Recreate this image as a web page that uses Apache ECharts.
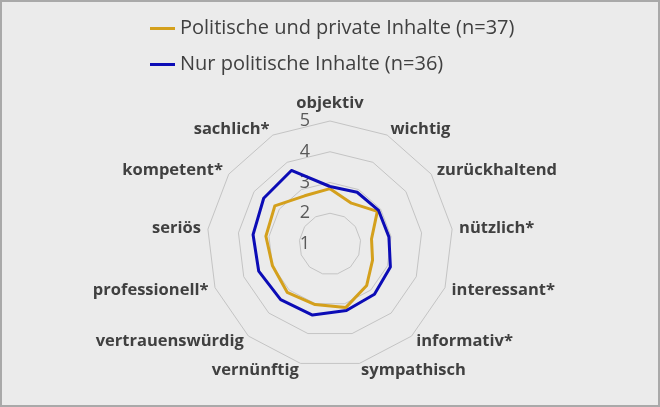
<!DOCTYPE html>
<html><head><meta charset="utf-8">
<script src="https://cdn.jsdelivr.net/npm/echarts@6/dist/echarts.min.js"></script>
<style>
html,body{margin:0;padding:0;background:#ebebeb}
#c{position:absolute;left:0;top:0;width:660px;height:407px}
#frame{position:absolute;left:0;top:0;width:660px;height:407px;box-sizing:border-box;border:2px solid #a9a9a9;pointer-events:none}
</style>
</head><body><div id="c"></div><div id="frame"></div>
<script>
// Categories listed clockwise starting at the top
const categories = ['objektiv','wichtig','zurückhaltend','nützlich*','interessant*','informativ*','sympathisch','vernünftig','vertrauenswürdig','professionell*','seriös','kompetent*','sachlich*'];
const seriesNames = ['Politische und private Inhalte (n=37)','Nur politische Inhalte (n=36)'];
const mixedValues = [2.80, 2.50, 2.87, 2.36, 2.48, 2.80, 3.13, 3.03, 3.10, 3.00, 3.10, 3.18, 2.77];
const politicalValues = [2.87, 2.90, 2.92, 2.93, 3.10, 3.18, 3.23, 3.38, 3.42, 3.48, 3.52, 3.62, 3.70];
const tickLabels = ['1','2','3','4','5'];
const axisMin = 1, axisMax = 5;

// ECharts radar runs counter-clockwise: keep the first axis, reverse the rest
const order = [0].concat(categories.map((_, i) => i).slice(1).reverse());
const pick = arr => order.map(i => arr[i]);

const chart = echarts.init(document.getElementById('c'), null, {renderer:'canvas'});
const FONT = '"Open Sans", sans-serif';
chart.setOption({
  backgroundColor: '#ebebeb',
  animation: false,
  color: ['#d4a01c', '#0c0cb6'],
  legend: {
    orient: 'vertical', left: 145, top: 12,
    itemWidth: 25, itemHeight: 3, itemGap: 13,
    icon: 'rect',
    textStyle: {fontFamily: FONT, fontSize: 20, color: '#404040', lineHeight: 23},
    data: seriesNames
  },
  radar: {
    center: [330, 244], radius: 123,
    startAngle: 90,
    splitNumber: tickLabels.length - 1,
    shape: 'polygon',
    axisName: {fontFamily: FONT, fontSize: 16.5, fontWeight: 'bold', color: '#404040'},
    nameGap: 7,
    axisLine: {show: false},
    axisTick: {show: false},
    axisLabel: {show: false},
    splitLine: {lineStyle: {color: '#c4c4c4', width: 1}},
    splitArea: {show: false},
    indicator: pick(categories).map((c, i) => {
      const o = {name: c, min: axisMin, max: axisMax};
      if (i === 0) o.axisLabel = {show: true, fontFamily: FONT, fontSize: 18, color: '#595959', margin: 20, showMinLabel: true,
        formatter: v => tickLabels[Math.round(v) - axisMin]};
      return o;
    })
  },
  series: [{
    type: 'radar',
    symbol: 'none',
    data: [
      {name: seriesNames[0], value: pick(mixedValues), lineStyle: {color: '#d4a01c', width: 3}, itemStyle: {color: '#d4a01c'}},
      {name: seriesNames[1], value: pick(politicalValues), lineStyle: {color: '#0c0cb6', width: 3}, itemStyle: {color: '#0c0cb6'}}
    ]
  }]
});
</script></body></html>
